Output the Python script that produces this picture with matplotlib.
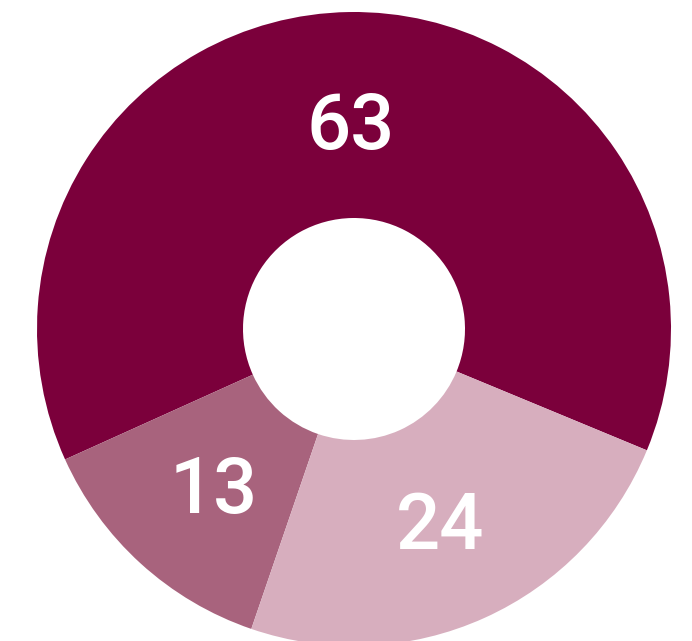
import matplotlib.pyplot as plt

# shares (%) and colours
labels = ["63", "13", "24"]
values = [63, 13, 24]
colors = ["#7b003b", "#a8637d", "#d7aebe"]

fig = plt.figure(figsize=(6.92, 6.41), dpi=100)
ax = fig.add_axes([0, 0, 1, 1])

# pixel-like coordinates so the ring sits where it does in the original
cx, cy, r_out, r_in = 354, 641 - 329, 317, 111

wedges, texts, autotexts = ax.pie(
    values, colors=colors, startangle=-22.5, counterclock=True,
    center=(cx, cy), radius=r_out,
    wedgeprops=dict(width=r_out - r_in, linewidth=0),
    autopct=lambda p: "%d" % round(p), pctdistance=0.66,
    textprops=dict(color="white", fontsize=56, family="Roboto",
                   fontweight="medium"))

for t in autotexts:
    t.set_va("center_baseline")

ax.set_xlim(0, 692)
ax.set_ylim(0, 641)
ax.set_aspect("equal")
ax.axis("off")

plt.savefig("out.png", dpi=100)
